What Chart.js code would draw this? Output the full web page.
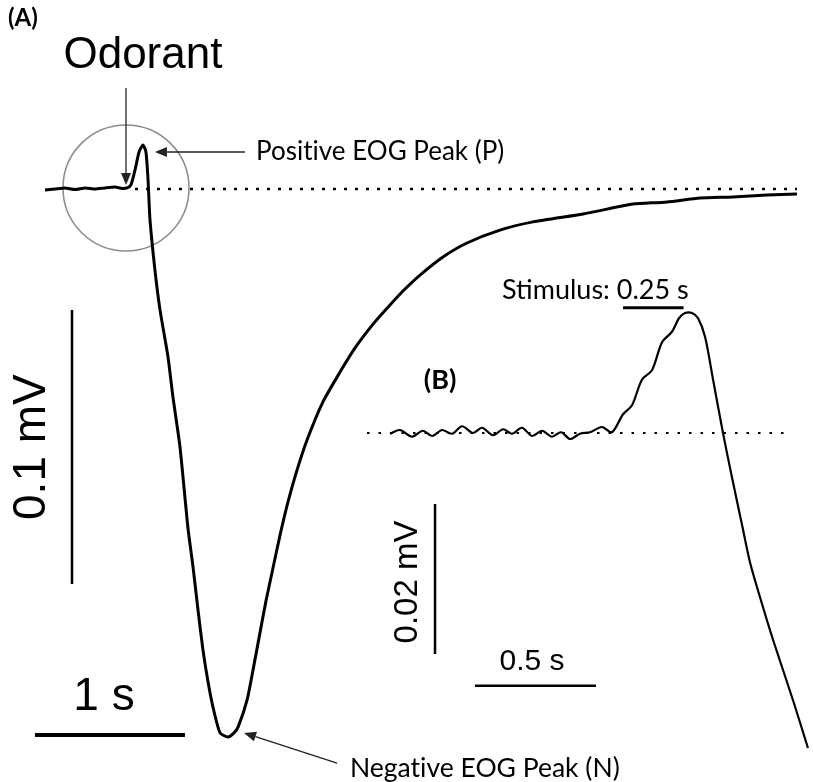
<!DOCTYPE html>
<html>
<head>
<meta charset="utf-8">
<script src="https://cdn.jsdelivr.net/npm/chart.js@4"></script>
<style>
  html, body { margin: 0; padding: 0; background: #fff; }
  #wrap { width: 813px; height: 782px; }
</style>
</head>
<body>
<div id="wrap"><canvas id="graphics" width="813" height="782"></canvas></div>
<script>
// (A) whole EOG trace: time in s, potential in mV
const mainTime = [0, 0.067, 0.133, 0.2, 0.267, 0.333, 0.4, 0.467, 0.513, 0.547, 0.573, 0.6, 0.627, 0.653,
  0.673, 0.687, 0.7, 0.733, 0.767, 0.82, 0.853, 0.9, 0.953, 0.987, 1.02, 1.053, 1.087, 1.12, 1.167, 1.22,
  1.26, 1.287, 1.347, 1.387, 1.433, 1.473, 1.52, 1.567, 1.62, 1.68, 1.747, 1.853, 1.967, 2.067, 2.187,
  2.3, 2.4, 2.5, 2.653, 2.813, 3.033, 3.253, 3.587, 3.813, 3.92, 4.147, 4.367, 4.587, 4.813, 5.013];
const mainVolt = [-0.0004, 0, 0.0004, -0.0002, 0.0004, 0, 0.0004, 0.0007, 0.0002, 0.0004, 0.0015, 0.0069,
  0.0135, 0.0161, 0.0135, 0.0033, -0.0113, -0.0296, -0.0442, -0.0613, -0.0759, -0.0942, -0.1237, -0.138,
  -0.1536, -0.1682, -0.1799, -0.1891, -0.1985, -0.2, -0.1985, -0.1964, -0.1865, -0.1755, -0.162, -0.1504,
  -0.1383, -0.1263, -0.1142, -0.1026, -0.0916, -0.0777, -0.0668, -0.058, -0.0493, -0.0423, -0.0365,
  -0.0314, -0.0248, -0.0197, -0.015, -0.012, -0.0091, -0.0066, -0.0055, -0.0047, -0.0033, -0.0029,
  -0.0022, -0.0018];

// (B) expanded view of the onset: time in s, potential in mV
const insetTime = [0, 0.041, 0.091, 0.136, 0.174, 0.215, 0.256, 0.298, 0.343, 0.38, 0.426, 0.467, 0.504,
  0.545, 0.587, 0.628, 0.669, 0.707, 0.744, 0.785, 0.826, 0.876, 0.917, 0.963, 1.0, 1.041, 1.083, 1.124,
  1.165, 1.194, 1.219, 1.248, 1.273, 1.302, 1.335, 1.376, 1.413, 1.455, 1.488, 1.529, 1.583, 1.665, 1.727];
const insetVolt = [-0.0001, 0.0004, -0.0005, 0.0003, -0.0004, 0.0004, -0.0001, 0.0009, 0, 0.0007, -0.0003,
  0.0005, -0.0001, 0.0007, -0.0004, 0.0003, -0.0005, 0.0001, -0.0008, -0.0001, 0.0001, 0.0008, 0.0001,
  0.0025, 0.0037, 0.0071, 0.0084, 0.0121, 0.0135, 0.0153, 0.016, 0.016, 0.0153, 0.0128, 0.0071, 0,
  -0.0059, -0.0123, -0.0173, -0.0219, -0.0276, -0.0356, -0.042];

// scale bars and markers (data units)
const mainBaseline = [0.6, 5.013];
const barSeconds = 1;
const barMillivolts = 0.1;
const insetBaseline = [-0.095, 1.661];
const insetBarSeconds = 0.5;
const insetBarMillivolts = 0.02;
const stimulusStart = 0.963;
const stimulusSeconds = 0.25;
const odorantTime = 0.54;

const pairs = (xs, ys) => xs.map((x, i) => ({ x, y: ys[i] }));
const seg = (x0, y0, x1, y1) => [{ x: x0, y: y0 }, { x: x1, y: y1 }];

// \u200C keeps Lato from fusing "ti" into a ligature
const labels = [
  { t: '(A)', a: 'main', x: -0.147, y: 0.0624, f: 'bold 24px Lato', al: 'center', b: 'middle' },
  { t: 'Odorant', a: 'main', x: 0.653, y: 0.0442, f: '44px "Liberation Sans"', al: 'center', b: 'alphabetic' },
  { t: 'Posit\u200Cive EOG Peak (P)', a: 'main', x: 1.407, y: 0.0106, f: '26px Lato', al: 'left', b: 'alphabetic' },
  { t: 'Negat\u200Cive EOG Peak (N)', a: 'main', x: 2.033, y: -0.2146, f: '26.5px Lato', al: 'left', b: 'alphabetic' },
  { t: '0.1 mV', a: 'main', x: -0.087, y: -0.0942, f: '46px "Liberation Sans"', al: 'center', b: 'middle', rot: true },
  { t: '1 s', a: 'main', x: 0.393, y: -0.1901, f: '46px "Liberation Sans"', al: 'center', b: 'alphabetic' },
  { t: '(B)', a: 'inset', x: 0.207, y: 0.00707, f: 'bold 27px Lato', al: 'center', b: 'middle' },
  { t: 'Stimulus: 0.25 s', a: 'inset', x: 0.463, y: 0.01787, f: '27px Lato', al: 'left', b: 'alphabetic' },
  { t: '0.02 mV', a: 'inset', x: 0.074, y: -0.01987, f: '33px "Liberation Sans"', al: 'center', b: 'middle', rot: true },
  { t: '0.5 s', a: 'inset', x: 0.587, y: -0.0316, f: '30px "Liberation Sans"', al: 'center', b: 'alphabetic' }
];

const arrows = [
  { from: [odorantTime, 0.0369], to: [odorantTime, 0.0015] },
  { from: [1.333, 0.0135], to: [0.733, 0.0135] },
  { from: [1.947, -0.2095], to: [1.327, -0.1985] }
];

const annotate = {
  id: 'annotate',
  afterDatasetsDraw(chart) {
    const ctx = chart.ctx;
    const s = chart.scales;
    ctx.save();
    ctx.fillStyle = '#000';
    labels.forEach(l => {
      const xs = l.a === 'main' ? s.x : s.x2;
      const ys = l.a === 'main' ? s.y : s.y2;
      const px = xs.getPixelForValue(l.x);
      const py = ys.getPixelForValue(l.y);
      ctx.save();
      ctx.font = l.f;
      ctx.textAlign = l.al;
      ctx.textBaseline = l.b;
      ctx.translate(px, py);
      if (l.rot) ctx.rotate(-Math.PI / 2);
      ctx.fillText(l.t, 0, 0);
      ctx.restore();
    });

    ctx.strokeStyle = '#222';
    ctx.fillStyle = '#222';
    ctx.lineWidth = 1.3;
    arrows.forEach(a => {
      const x0 = s.x.getPixelForValue(a.from[0]), y0 = s.y.getPixelForValue(a.from[1]);
      const x1 = s.x.getPixelForValue(a.to[0]), y1 = s.y.getPixelForValue(a.to[1]);
      const ang = Math.atan2(y1 - y0, x1 - x0);
      const len = 12, w = 5;
      const bx = x1 - len * Math.cos(ang), by = y1 - len * Math.sin(ang);
      ctx.beginPath();
      ctx.moveTo(x0, y0);
      ctx.lineTo(bx, by);
      ctx.stroke();
      ctx.beginPath();
      ctx.moveTo(x1, y1);
      ctx.lineTo(bx + w * Math.sin(ang), by - w * Math.cos(ang));
      ctx.lineTo(bx - w * Math.sin(ang), by + w * Math.cos(ang));
      ctx.closePath();
      ctx.fill();
    });
    ctx.restore();
  }
};

const line = (data, width, extra) => Object.assign({
  data, showLine: true, pointRadius: 0, borderColor: '#000', borderWidth: width,
  fill: false, tension: 0, xAxisID: 'x', yAxisID: 'y'
}, extra || {});

const inset = { xAxisID: 'x2', yAxisID: 'y2' };

new Chart(document.getElementById('graphics').getContext('2d'), {
  type: 'scatter',
  data: {
    datasets: [
      line(seg(mainBaseline[0], 0, mainBaseline[1], 0), 2.5, { borderDash: [3, 8] }),
      line(seg(insetBaseline[0], 0, insetBaseline[1], 0), 2.2, { borderDash: [2.5, 9], ...inset }),
      line(pairs(mainTime, mainVolt), 3, { tension: 0.2 }),
      line(pairs(insetTime, insetVolt), 2.2, { tension: 0.3, ...inset }),
      line(seg(-0.067, -0.1993, -0.067 + barSeconds, -0.1993), 4),
      line(seg(0.18, -0.0442, 0.18, -0.0442 - barMillivolts), 2.5),
      line(seg(0.186, -0.00947, 0.186, -0.00947 - insetBarMillivolts), 2.5, inset),
      line(seg(0.351, -0.0337, 0.351 + insetBarSeconds, -0.0337), 2.5, inset),
      line(seg(stimulusStart, 0.0167, stimulusStart + stimulusSeconds, 0.0167), 3, inset),
      {
        data: [{ x: odorantTime, y: 0.0004 }], pointRadius: 63, pointStyle: 'circle',
        backgroundColor: 'rgba(0,0,0,0)', borderColor: '#8a8a8a', borderWidth: 1.5,
        xAxisID: 'x', yAxisID: 'y'
      }
    ]
  },
  options: {
    responsive: false,
    animation: false,
    layout: { padding: 0, autoPadding: false },
    plugins: { legend: { display: false }, tooltip: { enabled: false } },
    scales: {
      x: { type: 'linear', display: false, min: -0.3, max: 5.12 },
      y: { type: 'linear', display: false, min: -0.21642, max: 0.06898 },
      x2: { type: 'linear', display: false, min: -1.6116, max: 1.7479 },
      y2: { type: 'linear', display: false, min: -0.046533, max: 0.057733 }
    }
  },
  plugins: [annotate]
});
</script>
</body>
</html>
